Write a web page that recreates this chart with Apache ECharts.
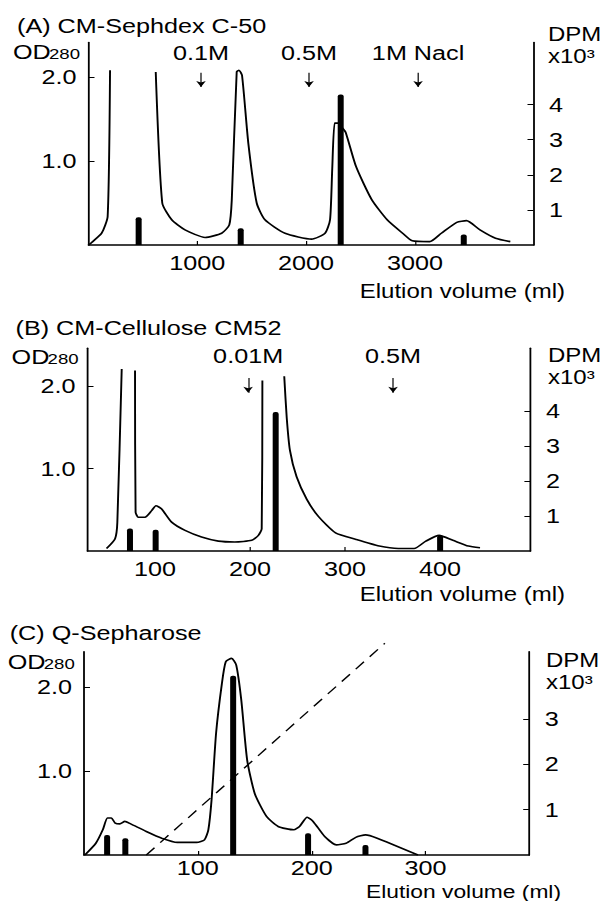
<!DOCTYPE html>
<html>
<head>
<meta charset="utf-8">
<script src="https://cdn.jsdelivr.net/npm/echarts@6/dist/echarts.min.js"></script>
<style>
  html, body { margin: 0; padding: 0; background: #fff; overflow: hidden; }
  /* the scanned figure is stretched sideways, so the chart is too */
  #chart { width: 503px; height: 901px; transform: scaleX(1.2); transform-origin: 0 0; }
</style>
</head>
<body>
<div id="chart"></div>
<script>
const SX = 1.2
const FONT = '"Liberation Sans", Arial, sans-serif'
const hx = (v) => v / SX

// (A) CM-Sephadex C-50 : [elution volume (ml), OD280]
const odA = [
  [0, 0], [29, 0.03], [121, 0.14], [176, 0.34], [198, 2.08], [400, '-'],
  [618, 2.06], [678, 0.5], [765, 0.3], [887, 0.18], [1071, 0.09], [1224, 0.14],
  [1294, 0.24], [1317, 0.54], [1362, 2.06], [1383, 2.08], [1411, 2.02], [1469, 1.21],
  [1546, 0.5], [1622, 0.3], [1806, 0.14], [2051, 0.07], [2174, 0.14], [2220, 0.3],
  [2240, 0.9], [2262, 1.45], [2295, 1.45], [2335, 1.39], [2364, 1.34], [2460, 0.93],
  [2603, 0.54], [2745, 0.3], [2887, 0.14], [2976, 0.05], [3136, 0.04], [3243, 0.14],
  [3385, 0.27], [3474, 0.29], [3598, 0.18], [3741, 0.08], [3877, 0.04],
]
const dpmA = [[461, 0.79], [1399, 0.48], [2318, 4.29], [3449, 0.3]]
const stepsA = [1034, 2027, 3029]
const stepNamesA = ['0.1M', '0.5M', '1M Nacl']

// (B) CM-Cellulose CM52
const odB = [
  [49, 0.03], [58, 0.15], [60.4, 0.35], [65, 2.21], [72, '-'], [79, 2.19],
  [79.6, 0.47], [82.5, 0.41], [89.5, 0.41], [96.5, 0.49], [101, 0.55], [107, 0.51],
  [117.5, 0.35], [131.6, 0.25], [149, 0.17], [166.7, 0.12], [184, 0.11], [201.8, 0.13],
  [208.8, 0.19], [212.3, 0.27], [213, 2.07], [225, '-'], [236, 2.12], [238.6, 1.62],
  [242, 1.22], [249, 0.9], [259.6, 0.63], [271.9, 0.42], [290, 0.22], [311.6, 0.14],
  [336, 0.06], [356, 0.03], [372.7, 0.03], [385, 0.12], [399, 0.19], [413.4, 0.13],
  [429.7, 0.06], [442, 0.04],
]
const dpmB = [[73.7, 0.64], [100.7, 0.61], [227, 3.97], [400, 0.45]]
const stepsB = [198, 350.5]
const stepNamesB = ['0.01M', '0.5M']

// (C) Q-Sepharose
const odC = [
  [0.8, 0], [10.4, 0.14], [16.5, 0.3], [20.6, 0.44], [24, 0.44], [27.4, 0.38],
  [31.5, 0.37], [35.9, 0.4], [41, 0.37], [54.7, 0.28], [68.3, 0.2], [82, 0.15],
  [99, 0.15], [105.8, 0.18], [109.2, 0.3], [112, 0.65], [116, 1.45], [121.1, 2.04],
  [124.5, 2.3], [129.6, 2.34], [133.7, 2.26], [138.1, 1.85], [143.3, 1.13], [150, 0.73],
  [160.3, 0.46], [170.5, 0.34], [184.2, 0.3], [189.3, 0.34], [196, 0.45], [201.2, 0.4],
  [211.4, 0.22], [221.7, 0.12], [230.2, 0.14], [238.7, 0.21], [247.3, 0.24], [257.5, 0.2],
  [293.3, 0],
]
const dpmC = [[20.3, 0.44], [36.3, 0.37], [131, 3.95], [196.8, 0.48], [247.2, 0.22]]
const gradientC = [[54.7, 0], [264.2, 2.52]]

const ticksA = [1000, 2000, 3000]
const ticksB = [100, 200, 300, 400]
const ticksC = [100, 200, 300]
const odTicks = [1, 2]
const dpmTicksAB = [1, 2, 3, 4]
const dpmTicksC = [1, 2, 3]

const black = '#000'
const labelText = { color: black, fontSize: 21, fontFamily: FONT }
const axisLine = { show: true, onZero: false, lineStyle: { color: black, width: 1.5 } }

const xAxis = (i, min, max, ticks, margin) => ({
  type: 'value', gridIndex: i, min, max,
  axisLine,
  axisTick: { show: true, inside: true, length: 4, customValues: ticks, lineStyle: { color: black } },
  axisLabel: { ...labelText, margin, customValues: ticks, formatter: (v) => String(v) },
  splitLine: { show: false },
})

const odAxis = (i, max) => ({
  type: 'value', gridIndex: i, position: 'left', min: 0, max,
  axisLine,
  axisTick: { show: true, inside: true, length: 5, customValues: odTicks, lineStyle: { color: black } },
  axisLabel: { ...labelText, margin: 10, customValues: odTicks, formatter: (v) => v.toFixed(1) },
  splitLine: { show: false },
})

const dpmAxis = (i, max, ticks) => ({
  type: 'value', gridIndex: i, position: 'right', min: 0, max,
  axisLine,
  axisTick: { show: true, inside: true, length: 5, customValues: ticks, lineStyle: { color: black } },
  axisLabel: { ...labelText, margin: 13, customValues: ticks },
  splitLine: { show: false },
})

const odLine = (i, data, steps, names, top, bottom, gap) => {
  const s = {
    type: 'line', xAxisIndex: i, yAxisIndex: i * 2, data,
    showSymbol: false, smooth: 0.2, silent: true,
    lineStyle: { color: black, width: 1.6 },
  }
  if (steps) {
    s.markLine = {
      silent: true,
      symbol: ['none', 'arrow'],
      symbolSize: 6,
      lineStyle: { type: 'solid', color: black, width: 1 },
      label: { show: true, position: 'start', distance: gap, formatter: '{b}', ...labelText },
      data: steps.map((x, k) => [{ coord: [x, top], name: names[k] }, { coord: [x, bottom] }]),
    }
  }
  return s
}

const dpmBars = (i, data) => ({
  type: 'bar', xAxisIndex: i, yAxisIndex: i * 2 + 1, data,
  barWidth: 5, silent: true,
  itemStyle: { color: black, borderRadius: [2, 2, 0, 0] },
})

const text = (x, y, str, size, align) => ({
  type: 'text', x: hx(x), y, silent: true,
  style: { text: str, font: `${size}px ${FONT}`, fill: black, textAlign: align || 'left', textVerticalAlign: 'middle' },
})

// titles and axis captions, one block per panel
const captions = [
  [17, 26, '(A) CM-Sephdex C-50', 13, 52, 548, 34, 565, 291, 20],
  [15.5, 328, '(B) CM-Cellulose CM52', 11.6, 357, 548, 355, 565, 594, 20],
  [9.7, 633, '(C) Q-Sepharose', 7.7, 662, 546, 660, 561, 891, 19],
]
const graphic = []
captions.forEach(([tx, ty, title, ox, oy, dx, dy, ex, ey, es]) => {
  graphic.push(text(tx, ty, title, 21))
  graphic.push(text(ox, oy, 'OD', 21))
  graphic.push(text(ox + 36, oy + 2, '280', 15.5))
  graphic.push(text(dx, dy, 'DPM', 20))
  graphic.push(text(dx, dy + 22, 'x10³', 20))
  graphic.push(text(ex, ey, 'Elution volume (ml)', es, 'right'))
})

const chart = echarts.init(document.getElementById('chart'), null, { renderer: 'svg' })

chart.setOption({
  animation: false,
  backgroundColor: '#fff',
  grid: [
    { left: hx(88.5), width: hx(445), top: 42.5, height: 202.5 },
    { left: hx(87.5), width: hx(442.9), top: 348.3, height: 202.7 },
    { left: hx(84), width: hx(445.2), top: 651.7, height: 203.3 },
  ],
  xAxis: [
    xAxis(0, 0, 4090, ticksA, 7),
    xAxis(1, 29, 495, ticksB, 7),
    xAxis(2, 0, 391, ticksC, 2),
  ],
  yAxis: [
    odAxis(0, 2.41), dpmAxis(0, 5.77, dpmTicksAB),
    odAxis(1, 2.46), dpmAxis(1, 5.79, dpmTicksAB),
    odAxis(2, 2.42), dpmAxis(2, 4.48, dpmTicksC),
  ],
  graphic,
  series: [
    odLine(0, odA, stepsA, stepNamesA, 2.05, 1.88, 9),
    dpmBars(0, dpmA),
    odLine(1, odB, stepsB, stepNamesB, 2.1, 1.92, 12),
    dpmBars(1, dpmB),
    odLine(2, odC),
    dpmBars(2, dpmC),
    {
      type: 'line', xAxisIndex: 2, yAxisIndex: 4, data: gradientC,
      showSymbol: false, clip: false, silent: true,
      lineStyle: { color: black, width: 1.3, type: [10, 7] },
    },
  ],
})
</script>
</body>
</html>
